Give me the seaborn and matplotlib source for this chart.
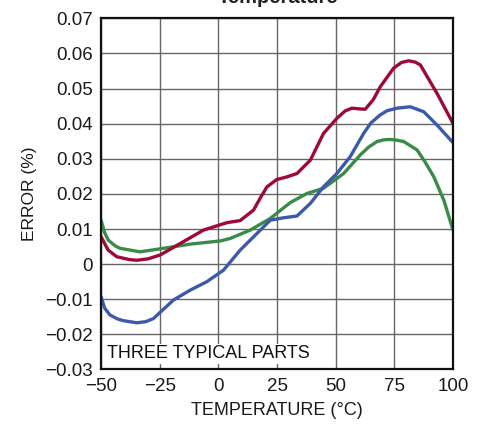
import numpy as np
import pandas as pd
import seaborn as sns
import matplotlib.pyplot as plt

# values (temperature in degC, error in %)
red_temp = [-50, -47, -43.3, -38, -34.8, -30, -24.8, -14.9, -6.3, 3.6, 9.3, 15.0, 18, 20.7,
            24.9, 29, 33.5, 39.2, 44.8, 50.5, 54, 56.9, 60, 62.6, 66, 69.0, 74.7, 78, 81.1,
            84, 86.1, 93.2, 100]
red_err = [0.0078, 0.0040, 0.0021, 0.0013, 0.0011, 0.0015, 0.0026, 0.0064, 0.0097, 0.0118,
           0.0124, 0.0154, 0.0190, 0.0220, 0.0241, 0.0248, 0.0258, 0.0296, 0.0372, 0.0415,
           0.0436, 0.0444, 0.0442, 0.0441, 0.0468, 0.0505, 0.0558, 0.0574, 0.0579, 0.0575,
           0.0567, 0.0486, 0.0401]

blue_temp = [-50, -48.5, -46.2, -43, -40.5, -34.8, -31, -27.7, -19.1, -12.0, -4.9, 2.2, 9.3,
             16.4, 22.1, 27.8, 33.5, 39.2, 44.8, 50.5, 56.2, 61.9, 65, 69.0, 72, 76.1, 81.8,
             87.5, 93.2, 100]
blue_err = [-0.0093, -0.0125, -0.0145, -0.0156, -0.0161, -0.0167, -0.0164, -0.0155, -0.0102,
            -0.0074, -0.0050, -0.0017, 0.0040, 0.0087, 0.0125, 0.0132, 0.0137, 0.0173, 0.0220,
            0.0258, 0.0306, 0.0372, 0.0402, 0.0425, 0.0437, 0.0444, 0.0448, 0.0434, 0.0396,
            0.0346]

green_temp = [-50, -48.5, -46.9, -44, -41.9, -33.4, -23.4, -12.0, 0.8, 5.0, 13.6, 22.1, 30.6,
              37.7, 44.8, 53.4, 60.5, 64, 67.6, 70.5, 73.3, 76, 79.0, 84.7, 88, 91.8, 96.1,
              100]
green_err = [0.0125, 0.0090, 0.0068, 0.0052, 0.0045, 0.0035, 0.0045, 0.0057, 0.0066, 0.0073,
             0.0097, 0.0130, 0.0175, 0.0201, 0.0216, 0.0258, 0.0311, 0.0333, 0.0349, 0.0354,
             0.0355, 0.0353, 0.0349, 0.0325, 0.0292, 0.0249, 0.0182, 0.0097]

x_ticks = [-50, -25, 0, 25, 50, 75, 100]
y_ticks = [-0.03, -0.02, -0.01, 0, 0.01, 0.02, 0.03, 0.04, 0.05, 0.06, 0.07]

df = pd.concat([
    pd.DataFrame({'temp': green_temp, 'err': green_err, 'part': 'C'}),
    pd.DataFrame({'temp': blue_temp, 'err': blue_err, 'part': 'B'}),
    pd.DataFrame({'temp': red_temp, 'err': red_err, 'part': 'A'}),
])

sns.set_style('white')
plt.rcParams['font.family'] = ['Liberation Sans', 'DejaVu Sans']

fig = plt.figure(figsize=(4.79, 4.25), dpi=100)
ax = fig.add_axes([0.211, 0.1306, 0.7347, 0.8264])

sns.lineplot(data=df, x='temp', y='err', hue='part', sort=False, estimator=None,
             palette={'A': '#9c0a35', 'B': '#3d59aa', 'C': '#3a8b48'},
             linewidth=2.4, legend=False, ax=ax)
for ln in ax.lines:
    ln.set_solid_joinstyle('round')

ax.set_xlim(-50, 100)
ax.set_ylim(-0.03, 0.07)
ax.set_xticks(x_ticks)
ax.set_yticks(y_ticks)
ax.set_yticklabels(['\u22120.03', '\u22120.02', '\u22120.01', '0', '0.01', '0.02', '0.03',
                    '0.04', '0.05', '0.06', '0.07'])
ax.set_xticklabels(['\u221250', '\u221225', '0', '25', '50', '75', '100'])
ax.tick_params(length=0, labelsize=13.5, pad=6, colors='#1a1a1a')
ax.grid(True, color='#666666', linewidth=1.0)
ax.set_axisbelow(True)
for s in ax.spines.values():
    s.set_color('#111111')
    s.set_linewidth(1.6)

ax.set_xlabel('TEMPERATURE (\u00b0C)', fontsize=13, labelpad=5, color='#1a1a1a')
ax.set_ylabel('ERROR (%)', fontsize=12.5, labelpad=6, color='#1a1a1a')
ax.text(-47.3, -0.0255, 'THREE TYPICAL PARTS', fontsize=13, va='center', ha='left',
        color='#111111', bbox=dict(facecolor='white', edgecolor='none', pad=1))

# title line only partly inside the frame, as in the reference
fig.text(0.58, 0.993, 'Temperature', fontsize=14.5, fontweight='bold',
         ha='center', va='baseline', color='#222222')

fig.savefig('out.png', dpi=100)
